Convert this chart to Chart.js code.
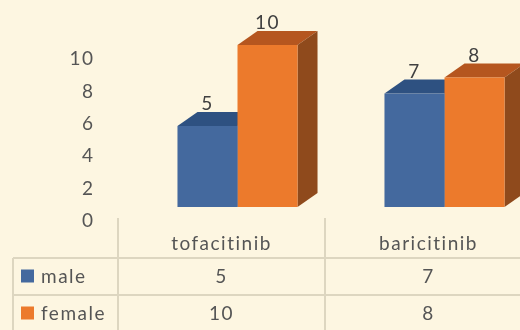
<!DOCTYPE html>
<html>
<head>
<meta charset="utf-8">
<script src="https://cdn.jsdelivr.net/npm/chart.js@4/dist/chart.umd.min.js"></script>
<style>
  html, body { margin: 0; padding: 0; background: #fdf6e1; overflow: hidden; }
  canvas { display: block; }
</style>
</head>
<body>
<canvas id="drugChart" width="540" height="330"></canvas>
<script>
const categories = ['tofacitinib', 'baricitinib'];
const maleData = [5, 7];
const femaleData = [10, 8];
const yTickMax = 10;
const yTickStep = 2;

const fontFamily = 'Lato, "Open Sans", sans-serif';
const textColor = '#555555';
const lineColor = '#ddd6c0';

// 3D look: every bar gets a top and a right face
const depthX = 20, depthY = -14, shiftX = 16;

function poly(ctx, pts) {
    ctx.beginPath();
    ctx.moveTo(pts[0][0], pts[0][1]);
    for (let i = 1; i < pts.length; i++) ctx.lineTo(pts[i][0], pts[i][1]);
    ctx.closePath();
    ctx.fill();
}

const bar3d = {
    id: 'bar3d',
    beforeDraw(chart) {
        // the original text is spaced out a little
        chart.ctx.letterSpacing = '1.5px';
    },
    beforeDatasetsDraw(chart) {
        const ctx = chart.ctx;
        ctx.save();
        ctx.translate(shiftX, 0);
        chart.data.datasets.forEach((ds, i) => {
            chart.getDatasetMeta(i).data.forEach(bar => {
                const l = bar.x - bar.width / 2, r = bar.x + bar.width / 2;
                ctx.fillStyle = ds.topColor;
                poly(ctx, [[l, bar.y], [l + depthX, bar.y + depthY], [r + depthX, bar.y + depthY], [r, bar.y]]);
                ctx.fillStyle = ds.sideColor;
                poly(ctx, [[r, bar.y], [r + depthX, bar.y + depthY], [r + depthX, bar.base + depthY], [r, bar.base]]);
            });
        });
    },
    afterDatasetsDraw(chart) {
        const ctx = chart.ctx;
        ctx.font = '19px ' + fontFamily;
        ctx.fillStyle = '#404040';
        ctx.textAlign = 'center';
        ctx.textBaseline = 'middle';
        chart.data.datasets.forEach((ds, i) => {
            chart.getDatasetMeta(i).data.forEach((bar, j) => {
                ctx.fillText(String(ds.data[j]), bar.x, bar.y - 22);
            });
        });
        ctx.restore();
    }
};

const dataTable = {
    id: 'dataTable',
    afterDraw(chart) {
        const ctx = chart.ctx;
        const xs = chart.scales.x;
        const centers = categories.map((c, i) => xs.getPixelForValue(i));
        const cols = [13, xs.left];
        for (let i = 1; i < centers.length; i++) cols.push((centers[i - 1] + centers[i]) / 2);
        cols.push(xs.right);
        const headTop = 218, rows = [258, 295, 332];

        ctx.save();
        ctx.strokeStyle = lineColor;
        ctx.lineWidth = 2;
        ctx.beginPath();
        rows.forEach(y => { ctx.moveTo(cols[0], y); ctx.lineTo(cols[cols.length - 1], y); });
        ctx.moveTo(cols[0], rows[0]); ctx.lineTo(cols[0], rows[2]);
        for (let i = 1; i < cols.length; i++) { ctx.moveTo(cols[i], headTop); ctx.lineTo(cols[i], rows[2]); }
        ctx.stroke();

        ctx.font = '19px ' + fontFamily;
        ctx.fillStyle = textColor;
        ctx.textBaseline = 'middle';
        ctx.textAlign = 'center';
        categories.forEach((c, i) => ctx.fillText(c, centers[i], 244));

        chart.data.datasets.forEach((ds, r) => {
            const yMid = (rows[r] + rows[r + 1]) / 2;
            ctx.fillStyle = ds.backgroundColor;
            ctx.fillRect(21, yMid - 7, 13, 13);
            ctx.fillStyle = textColor;
            ctx.textAlign = 'left';
            ctx.fillText(ds.label, 41, yMid);
            ctx.textAlign = 'center';
            ds.data.forEach((v, j) => ctx.fillText(String(v), centers[j], yMid));
        });
        ctx.restore();
    }
};

new Chart(document.getElementById('drugChart'), {
    type: 'bar',
    data: {
        labels: categories,
        datasets: [
            {
                label: 'male',
                data: maleData,
                backgroundColor: '#44699e',
                topColor: '#2e5181',
                sideColor: '#2a4a75',
                barPercentage: 1,
                categoryPercentage: 0.58
            },
            {
                label: 'female',
                data: femaleData,
                backgroundColor: '#ec7a2c',
                topColor: '#b5561f',
                sideColor: '#8f4a1c',
                barPercentage: 1,
                categoryPercentage: 0.58
            }
        ]
    },
    options: {
        responsive: false,
        animation: false,
        devicePixelRatio: 1,
        layout: { padding: { top: 45, bottom: 123, left: 0, right: 8 } },
        plugins: {
            legend: { display: false },
            tooltip: { enabled: false }
        },
        scales: {
            x: { display: false, offset: true },
            y: {
                min: 0,
                max: yTickMax,
                afterFit: s => { s.width = 118; },
                grid: { display: false, drawTicks: false },
                border: { display: false },
                ticks: {
                    stepSize: yTickStep,
                    labelOffset: 14,
                    padding: 23.5,
                    color: textColor,
                    font: { family: fontFamily, size: 19 }
                }
            }
        }
    },
    plugins: [bar3d, dataTable]
});
</script>
</body>
</html>
